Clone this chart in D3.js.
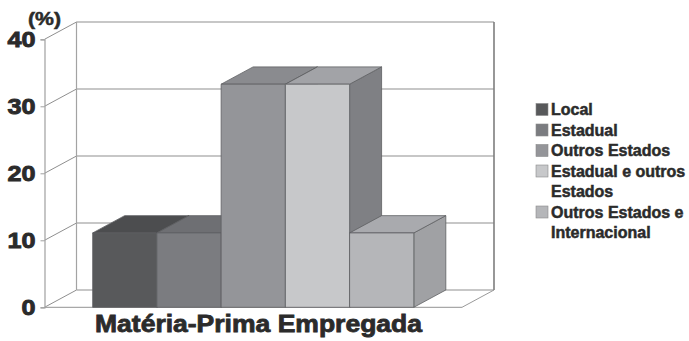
<!DOCTYPE html>
<html>
<head>
<meta charset="utf-8">
<script src="https://cdn.jsdelivr.net/npm/d3@7"></script>
<style>
  body { margin: 0; background: #fff; }
  text { font-family: "Liberation Sans", Arial, sans-serif; font-weight: bold; fill: #2b2b2b; stroke: #2b2b2b; stroke-width: 0.5px; }
</style>
</head>
<body>
<svg id="chart"></svg>
<script>
const category = "Matéria-Prima Empregada";
const series = ["Local", "Estadual", "Outros Estados", "Estadual e outros Estados", "Outros Estados e Internacional"];
const legendLines = [["Local"], ["Estadual"], ["Outros Estados"], ["Estadual e outros", "Estados"], ["Outros Estados e", "Internacional"]];
const values = [11.1, 11.1, 33.3, 33.3, 11.1];
const yTicks = [0, 10, 20, 30, 40];
const yUnit = "(%)";

const frontColors = ["#58595b", "#7b7c80", "#949599", "#c7c8ca", "#b5b6b9"],
      topColors   = ["#4c4d4f", "#6e6f73", "#8a8b8f", "#a2a3a7", "#a9aaae"],
      sideColors  = ["#444547", "#646569", "#7f8084", "#7f8084", "#a0a1a4"];

const width = 689, height = 341;
const front = {left: 44.5, right: 462, top: 39.3, bottom: 307.3},
      depth = {x: 32, y: -17.3};

const svg = d3.select("#chart")
    .attr("width", width)
    .attr("height", height);

const y = d3.scaleLinear().domain([0, 40]).range([front.bottom, front.top]);
const x0 = d3.scaleBand().domain([category]).range([front.left, front.right]).paddingOuter(0.15);
const x1 = d3.scaleBand().domain(series).range([0, x0.bandwidth()]);

// walls
const walls = svg.append("g").attr("fill", "none");
walls.selectAll(".grid").data(yTicks).enter().append("line")
    .attr("x1", front.left + depth.x).attr("x2", front.right + depth.x)
    .attr("y1", d => y(d) + depth.y).attr("y2", d => y(d) + depth.y)
    .attr("stroke", "#b5b5b5").attr("stroke-width", 1.3);
walls.selectAll(".diag").data(yTicks).enter().append("line")
    .attr("x1", front.left).attr("x2", front.left + depth.x)
    .attr("y1", d => y(d)).attr("y2", d => y(d) + depth.y)
    .attr("stroke", "#8f8f8f").attr("stroke-width", 1);
walls.append("line")
    .attr("x1", front.left + depth.x).attr("x2", front.left + depth.x)
    .attr("y1", y(40) + depth.y).attr("y2", y(0) + depth.y)
    .attr("stroke", "#a3a3a3").attr("stroke-width", 1.2);
walls.append("line")
    .attr("x1", front.right + depth.x).attr("x2", front.right + depth.x)
    .attr("y1", y(40) + depth.y).attr("y2", y(0) + depth.y)
    .attr("stroke", "#7e7e7e").attr("stroke-width", 1.6);
walls.append("line")
    .attr("x1", front.left).attr("x2", front.right)
    .attr("y1", y(0)).attr("y2", y(0))
    .attr("stroke", "#a8a8a8").attr("stroke-width", 1.2);
walls.append("line")
    .attr("x1", front.right).attr("x2", front.right + depth.x)
    .attr("y1", y(0)).attr("y2", y(0) + depth.y)
    .attr("stroke", "#9a9a9a").attr("stroke-width", 1);

// y axis
const yAxis = d3.axisLeft(y).tickValues(yTicks).tickSize(4).tickPadding(5);
const yAxisView = svg.append("g")
    .attr("transform", `translate(${front.left},0)`)
    .call(yAxis);
yAxisView.select(".domain").attr("stroke", "#a0a0a0").attr("stroke-width", 1.2);
yAxisView.selectAll(".tick line").attr("stroke", "#a0a0a0");
yAxisView.selectAll(".tick text")
    .attr("fill", "#2b2b2b")
    .style("font-size", "22px")
    .style("stroke-width", "0.9px")
    .attr("textLength", d => String(d).length * 14)
    .attr("lengthAdjust", "spacingAndGlyphs");

svg.append("text")
    .attr("x", 28).attr("y", 25)
    .style("font-size", "18px")
    .attr("textLength", 33).attr("lengthAdjust", "spacingAndGlyphs")
    .text(yUnit);

// bars, left to right so each front hides the previous side
const bars = svg.append("g")
    .attr("stroke", "#5e5f62").attr("stroke-width", 0.8).attr("stroke-linejoin", "round");
series.forEach((s, i) => {
    const bx = x0(category) + x1(s),
          w = x1.bandwidth(),
          top = y(values[i]),
          bottom = y(0);
    const g = bars.append("g");
    g.append("polygon")
        .attr("points", [[bx + w, top], [bx + w + depth.x, top + depth.y],
                         [bx + w + depth.x, bottom + depth.y], [bx + w, bottom]].join(" "))
        .attr("fill", sideColors[i]);
    g.append("polygon")
        .attr("points", [[bx, top], [bx + depth.x, top + depth.y],
                         [bx + w + depth.x, top + depth.y], [bx + w, top]].join(" "))
        .attr("fill", topColors[i]);
    g.append("rect")
        .attr("x", bx).attr("y", top)
        .attr("width", w).attr("height", bottom - top)
        .attr("fill", frontColors[i]);
});

// title
svg.append("text")
    .attr("x", 95).attr("y", 332)
    .style("font-size", "23px")
    .style("stroke-width", "0.8px")
    .attr("textLength", 327).attr("lengthAdjust", "spacingAndGlyphs")
    .text(category);

// legend
const legend = svg.append("g");
let row = 0;
legendLines.forEach((lines, i) => {
    const cy = 109.5 + row * 20.5;
    legend.append("rect")
        .attr("x", 536).attr("y", cy - 6)
        .attr("width", 12).attr("height", 12)
        .attr("fill", frontColors[i])
        .attr("stroke", "#8a8a8a").attr("stroke-width", 0.6);
    lines.forEach((t, j) => {
        legend.append("text")
            .attr("x", 551).attr("y", cy + j * 20.5)
            .attr("dy", "0.36em")
            .style("font-size", "16px")
            .text(t);
    });
    row += lines.length;
});
</script>
</body>
</html>
